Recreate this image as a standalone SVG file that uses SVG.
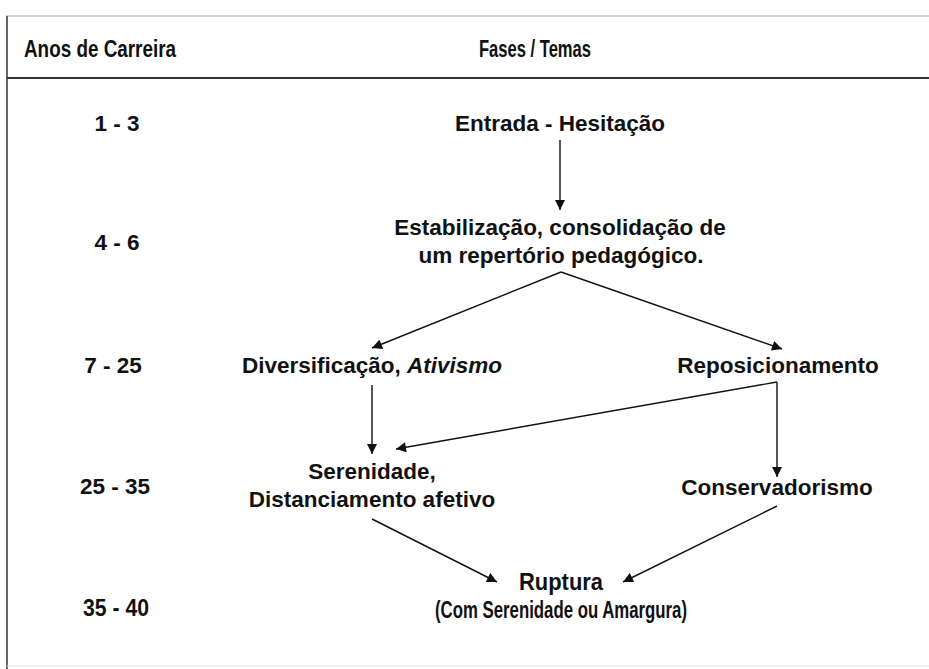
<svg xmlns="http://www.w3.org/2000/svg" width="929" height="669" viewBox="0 0 929 669">
<defs>
<marker id="ah" viewBox="0 0 10 10" refX="10" refY="5" markerWidth="11" markerHeight="10" markerUnits="userSpaceOnUse" orient="auto">
<path d="M0,0 L10,5 L0,10 z" fill="#111"/>
</marker>
<style>
.t{font-family:"Liberation Sans",Arial,sans-serif;font-weight:bold;font-size:22.5px;fill:#111;text-anchor:middle}
.n{font-family:"Liberation Sans",Arial,sans-serif;font-weight:bold;font-size:24.5px;fill:#111;text-anchor:middle}
.c{stroke:#111;stroke-width:1.4;fill:none;marker-end:url(#ah)}
</style>
</defs>
<rect width="929" height="669" fill="#fff"/>
<g id="frame">
<line x1="6" y1="16" x2="929" y2="16" stroke="#aaa" stroke-width="1.2"/>
<line x1="7" y1="16" x2="7" y2="669" stroke="#333" stroke-width="1.5"/>
<line x1="7" y1="78" x2="929" y2="78" stroke="#333" stroke-width="2"/>
<line x1="7" y1="666" x2="929" y2="666" stroke="#ddd" stroke-width="1"/>
</g>
<g id="header">
<text class="n" x="100" y="57" textLength="152" lengthAdjust="spacingAndGlyphs">Anos de Carreira</text>
<text class="n" x="535" y="57" textLength="112" lengthAdjust="spacingAndGlyphs">Fases / Temas</text>
</g>
<g id="years">
<text class="t" x="117" y="131">1 - 3</text>
<text class="t" x="117" y="250">4 - 6</text>
<text class="t" x="113" y="373">7 - 25</text>
<text class="t" x="115" y="494">25 - 35</text>
<text class="n" x="116" y="616" textLength="66" lengthAdjust="spacingAndGlyphs">35 - 40</text>
</g>
<g id="entrada"><text class="t" x="560" y="131">Entrada - Hesitação</text></g>
<g id="estabilizacao">
<text class="t" x="560" y="235">Estabilização, consolidação de</text>
<text class="t" x="561" y="263">um repertório pedagógico.</text>
</g>
<g id="diversificacao"><text class="t" x="372" y="373">Diversificação, <tspan font-style="italic">Ativismo</tspan></text></g>
<g id="reposicionamento"><text class="t" x="778" y="373">Reposicionamento</text></g>
<g id="serenidade">
<text class="t" x="372" y="479">Serenidade,</text>
<text class="t" x="372" y="507">Distanciamento afetivo</text>
</g>
<g id="conservadorismo"><text class="t" x="777" y="495">Conservadorismo</text></g>
<g id="ruptura">
<text class="n" x="561" y="590" textLength="84" lengthAdjust="spacingAndGlyphs">Ruptura</text>
<text class="n" x="561" y="618" textLength="252" lengthAdjust="spacingAndGlyphs">(Com Serenidade ou Amargura)</text>
</g>
<g id="connectors">
<line class="c" x1="560" y1="140" x2="560" y2="210"/>
<line class="c" x1="561" y1="272" x2="372" y2="348"/>
<line class="c" x1="561" y1="272" x2="782" y2="349"/>
<line class="c" x1="372" y1="385" x2="372" y2="454"/>
<line class="c" x1="777" y1="382" x2="396" y2="449"/>
<line class="c" x1="777" y1="382" x2="777" y2="477"/>
<line class="c" x1="372" y1="519" x2="497" y2="582"/>
<line class="c" x1="777" y1="506" x2="623" y2="582"/>
</g>
</svg>
